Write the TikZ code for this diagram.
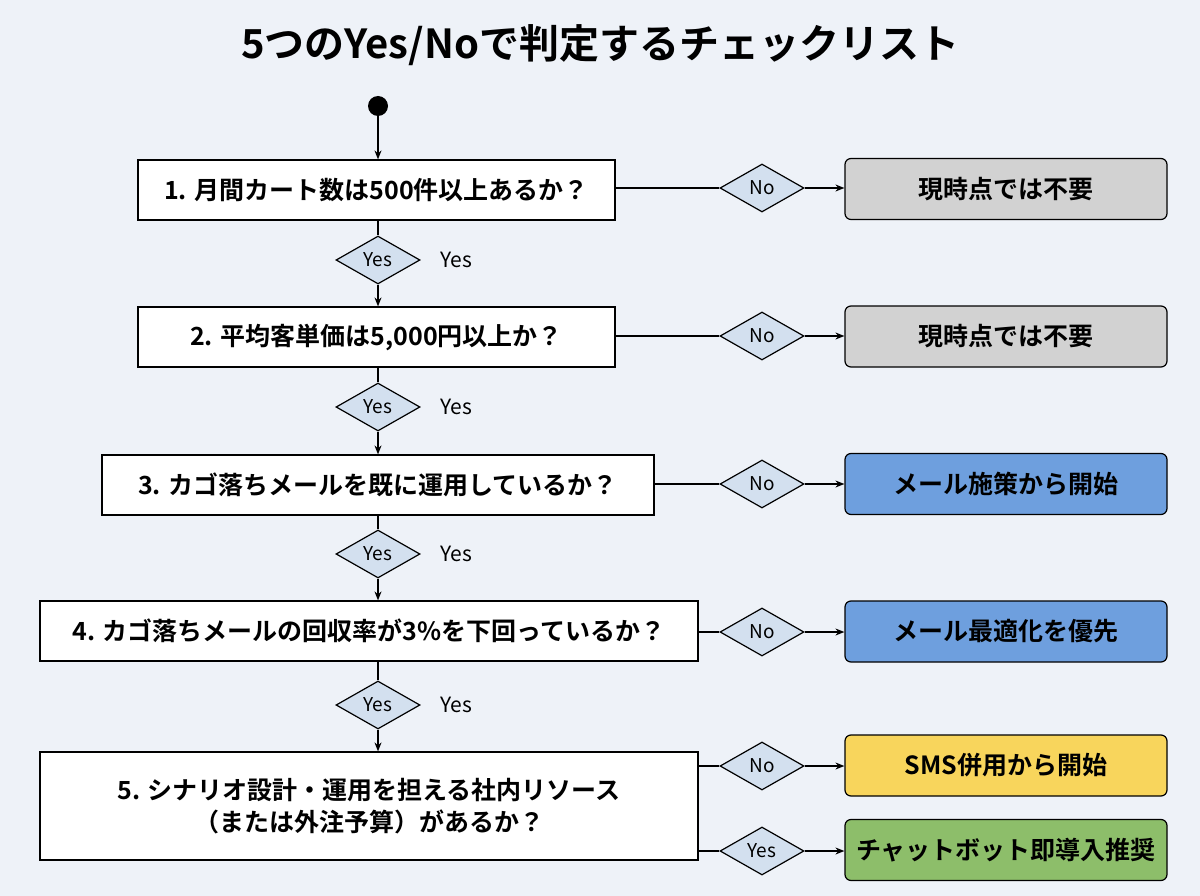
\documentclass[tikz,border=0pt]{standalone}
\usepackage{fontspec}
\setmainfont{Noto Sans CJK JP}[BoldFont={Noto Sans CJK JP Bold}]
\usetikzlibrary{shapes.geometric,arrows.meta}
\definecolor{bgcol}{HTML}{EEF2F8}
\definecolor{dmcol}{HTML}{D3E0EF}
\definecolor{grcol}{HTML}{D2D2D2}
\definecolor{blcol}{HTML}{6E9FDE}
\definecolor{ylcol}{HTML}{F8D55C}
\definecolor{gncol}{HTML}{8DBE6A}
\tikzset{every picture/.style={line width=1.2pt}}
\tikzset{
  qbox/.style={draw, fill=white, inner sep=0pt, font=\fontsize{25}{32}\selectfont\bfseries, align=center},
  rbox/.style={draw, rounded corners=6pt, minimum width=322pt, minimum height=61pt, font=\fontsize{25}{30}\selectfont\bfseries},
  dia/.style={draw, diamond, fill=dmcol, aspect=1.8, minimum width=84pt, minimum height=48pt, inner sep=0pt, font=\fontsize{19}{21}\selectfont},
  lab/.style={font=\fontsize{21}{25}\selectfont},
  arr/.style={-{Stealth[length=9pt,width=7pt]}}
}
\begin{document}
\begin{tikzpicture}[x=1pt,y=-1pt]
  \fill[bgcol] (0,0) rectangle (1200,896);
  \useasboundingbox (0,0) rectangle (1200,896);
  \node[font=\fontsize{40}{46}\selectfont\bfseries] (title) at (600,45) {5つのYes/Noで判定するチェックリスト};
  \fill (378,106) circle (10pt);
  \coordinate (start) at (378,106);
  % questions
  \node[qbox, minimum width=477pt, minimum height=60pt] (q1) at (376.5,190) {1. 月間カート数は500件以上あるか？};
  \node[qbox, minimum width=477pt, minimum height=60pt] (q2) at (376.5,337) {2. 平均客単価は5,000円以上か？};
  \node[qbox, minimum width=552pt, minimum height=60pt] (q3) at (378,485) {3. カゴ落ちメールを既に運用しているか？};
  \node[qbox, minimum width=658pt, minimum height=60pt] (q4) at (369,631) {4. カゴ落ちメールの回収率が3\%を下回っているか？};
  \node[qbox, minimum width=658pt, minimum height=108pt] (q5) at (369,806) {5. シナリオ設計・運用を担える社内リソース\\（または外注予算）があるか？};
  % yes diamonds
  \node[dia] (y1) at (378,260) {Yes};
  \node[dia] (y2) at (378,407) {Yes};
  \node[dia] (y3) at (378,554) {Yes};
  \node[dia] (y4) at (378,705) {Yes};
  \node[lab] at (456,260) {Yes};
  \node[lab] at (456,407) {Yes};
  \node[lab] at (456,554) {Yes};
  \node[lab] at (456,705) {Yes};
  \draw[arr] (start) -- (start |- q1.north);
  \draw (y1 |- q1.south) -- (y1); \draw[arr] (y1) -- (y1 |- q2.north);
  \draw (y2 |- q2.south) -- (y2); \draw[arr] (y2) -- (y2 |- q3.north);
  \draw (y3 |- q3.south) -- (y3); \draw[arr] (y3) -- (y3 |- q4.north);
  \draw (y4 |- q4.south) -- (y4); \draw[arr] (y4) -- (y4 |- q5.north);
  % no branches
  \node[dia] (n1) at (762,188) {No};
  \node[dia] (n2) at (762,336) {No};
  \node[dia] (n3) at (762,484) {No};
  \node[dia] (n4) at (762,632) {No};
  \node[dia] (n5) at (762,766) {No};
  \node[dia] (y5) at (762,851) {Yes};
  \node[rbox, fill=grcol] (r1) at (1006,189) {現時点では不要};
  \node[rbox, fill=grcol] (r2) at (1006,336.5) {現時点では不要};
  \node[rbox, fill=blcol] (r3) at (1006,484) {メール施策から開始};
  \node[rbox, fill=blcol] (r4) at (1006,631.5) {メール最適化を優先};
  \node[rbox, fill=ylcol] (r5) at (1006,765.5) {SMS併用から開始};
  \node[rbox, fill=gncol] (r6) at (1006,850) {チャットボット即導入推奨};
  \draw (q1.east |- n1) -- (n1); \draw[arr] (n1) -- (r1.west |- n1);
  \draw (q2.east |- n2) -- (n2); \draw[arr] (n2) -- (r2.west |- n2);
  \draw (q3.east |- n3) -- (n3); \draw[arr] (n3) -- (r3.west |- n3);
  \draw (q4.east |- n4) -- (n4); \draw[arr] (n4) -- (r4.west |- n4);
  \draw (q5.east |- n5) -- (n5); \draw[arr] (n5) -- (r5.west |- n5);
  \draw (q5.east |- y5) -- (y5); \draw[arr] (y5) -- (r6.west |- y5);
\end{tikzpicture}
\end{document}
